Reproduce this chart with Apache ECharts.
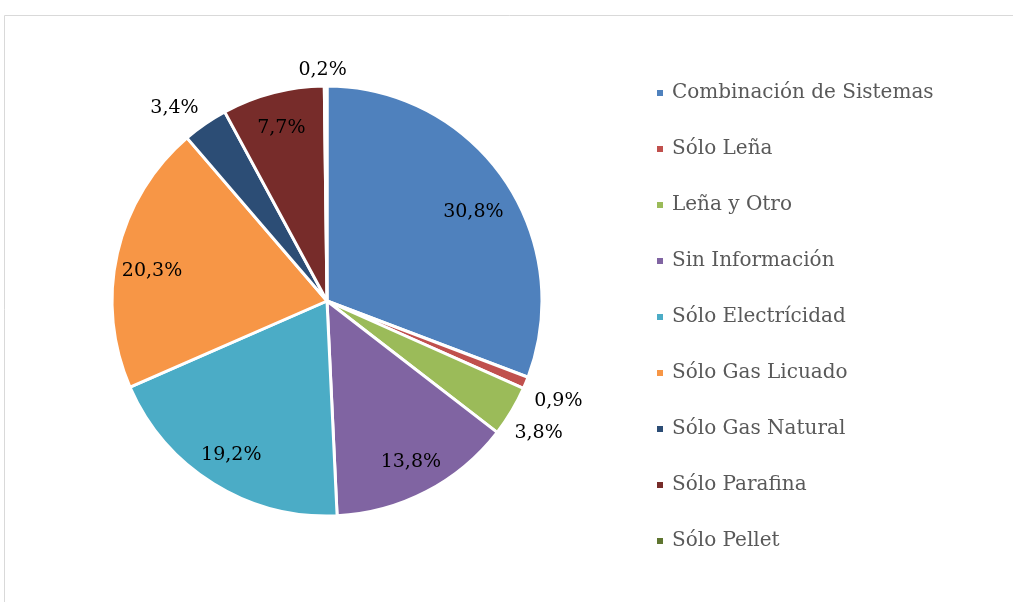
<!DOCTYPE html>
<html><head><meta charset="utf-8">
<script src="https://cdn.jsdelivr.net/npm/echarts@6/dist/echarts.min.js"></script>
<style>html,body{margin:0;padding:0;background:#fff}#c{width:1013px;height:602px}</style>
</head><body><div id="c"></div>
<script>
const categories = ['Combinación de Sistemas','Sólo Leña','Leña y Otro','Sin Información','Sólo Electrícidad','Sólo Gas Licuado','Sólo Gas Natural','Sólo Parafina','Sólo Pellet'];
const values = [30.8, 0.9, 3.8, 13.8, 19.2, 20.3, 3.4, 7.7, 0.2];
const colors = ['#4F81BD','#C0504D','#9BBB59','#8064A2','#4BACC6','#F79646','#2C4D75','#772C2A','#5F7530'];
const outsideLabels = ['Sólo Leña','Leña y Otro','Sólo Gas Natural','Sólo Pellet'];

const fmt = v => v.toFixed(1).replace('.', ',') + '%';
const FONT = 'DejaVu Serif';

// small label nudges (pixels) to mimic the reference placement
const nudges = {0:[-3,14], 1:[-4,15], 2:[-9,18], 5:[2,10], 6:[3,-9], 7:[0,3], 8:[2,-8]};

const mainData = categories.map((n,i)=>({name:n, value:values[i], itemStyle:{color:colors[i]}}));
const labelData = categories.map((n,i)=>{
  const out = outsideLabels.includes(n);
  return {name:n, value:values[i],
    label:{show:true, position: out ? 'outside' : 'inside'},
    labelLine:{show:false}};
});

const chart = echarts.init(document.getElementById('c'));
chart.setOption({
  animation:false,
  color: colors,
  graphic:[{type:'rect', shape:{x:4.5,y:15.5,width:1100,height:700}, style:{fill:'none', stroke:'#d9d9d9', lineWidth:1}, silent:true}],
  legend:{
    orient:'vertical', left:650, top:78,
    icon:'rect', itemWidth:8, itemHeight:8, itemGap:36,
    textStyle:{fontFamily:FONT, fontSize:20, color:'#595959', padding:[0,0,0,3]},
    data: categories
  },
  series:[
    {type:'pie', center:[327,301], radius:215, startAngle:90, clockwise:true,
     itemStyle:{borderColor:'#fff', borderWidth:3},
     label:{show:false}, labelLine:{show:false},
     emphasis:{disabled:true},
     data: mainData},
    {type:'pie', center:[327,301], radius:[142,215], startAngle:90, clockwise:true, silent:true,
     itemStyle:{color:'rgba(0,0,0,0)', borderWidth:0},
     label:{show:true, fontFamily:FONT, fontSize:19, color:'#000', formatter:p=>fmt(p.value)},
     labelLine:{show:false, length:8, length2:0},
     labelLayout: p => {
       const nd = nudges[p.dataIndex];
       const r = nd ? {dx:nd[0], dy:nd[1]} : {};
       if (p.dataIndex === 8) r.align = 'center';
       return r;
     },
     emphasis:{disabled:true},
     data: labelData}
  ]
});
</script></body></html>
